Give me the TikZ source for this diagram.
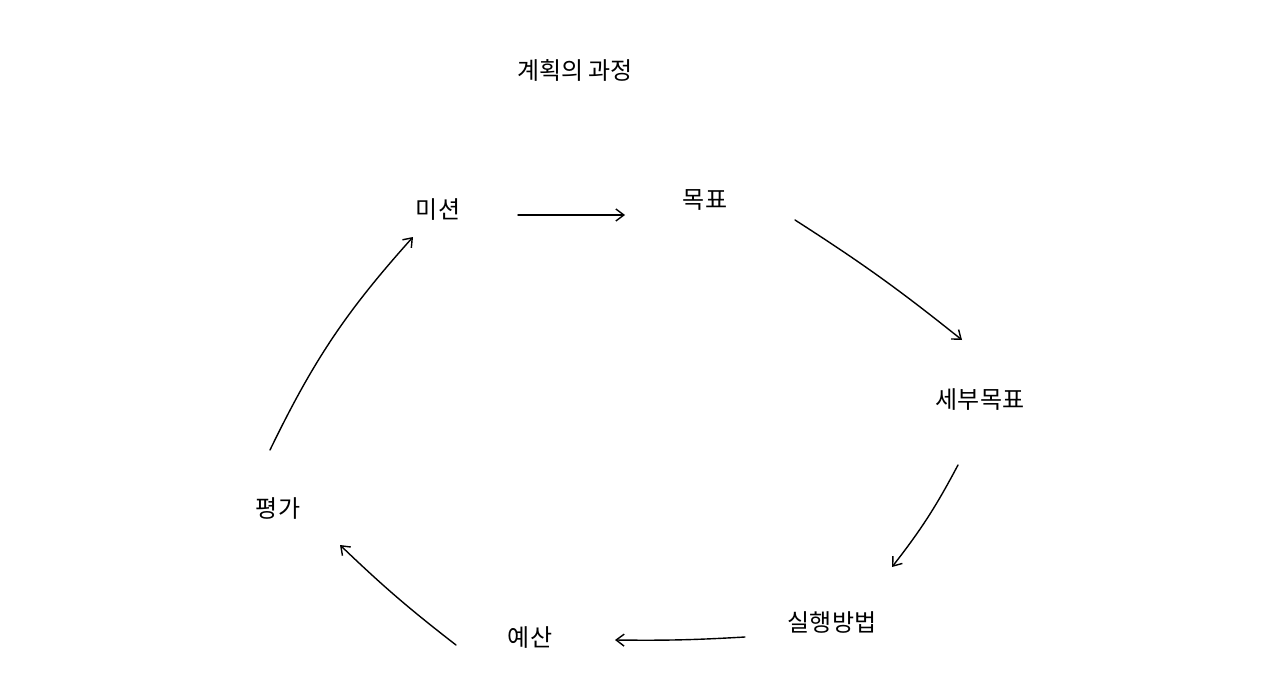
\documentclass[tikz,border=0pt]{standalone}
\usepackage{fontspec}
\newfontfamily\kr{Noto Sans CJK KR}
\usetikzlibrary{arrows.meta}
\begin{document}
\begin{tikzpicture}[x=1pt,y=-1pt,
  lbl/.style={font=\kr\fontsize{24}{28}\selectfont},
  arr/.style={line width=1.4pt,-{Straight Barb[length=8pt,width=12pt]},line cap=round}]
\useasboundingbox[fill=white] (0,0) rectangle (1280,682);
\node[lbl] (t) at (575,70) {계획의 과정};
\node[lbl] (a) at (438,210) {미션};
\node[lbl] (b) at (705,200) {목표};
\node[lbl] (c) at (980,400) {세부목표};
\node[lbl] (d) at (832,622) {실행방법};
\node[lbl] (e) at (530,638) {예산};
\node[lbl] (f) at (278,508) {평가};
\coordinate (a1) at (518,215); \coordinate (b0) at (625,215);
\coordinate (b1) at (795,220); \coordinate (c0) at (962,340);
\coordinate (c1) at (958,465); \coordinate (d0) at (892,567);
\coordinate (d1) at (745,637); \coordinate (e0) at (615,640);
\coordinate (e1) at (456,645); \coordinate (f0) at (340,545);
\coordinate (f1) at (270,450); \coordinate (a0) at (413,237);
\draw[arr] (a1) -- (b0);
\draw[arr] (b1) to[bend left=3] (c0);
\draw[arr] (c1) to[bend left=5] (d0);
\draw[arr] (d1) to[bend left=2] (e0);
\draw[arr] (e1) to[bend left=3] (f0);
\draw[arr] (f1) to[bend left=8] (a0);
\end{tikzpicture}
\end{document}
